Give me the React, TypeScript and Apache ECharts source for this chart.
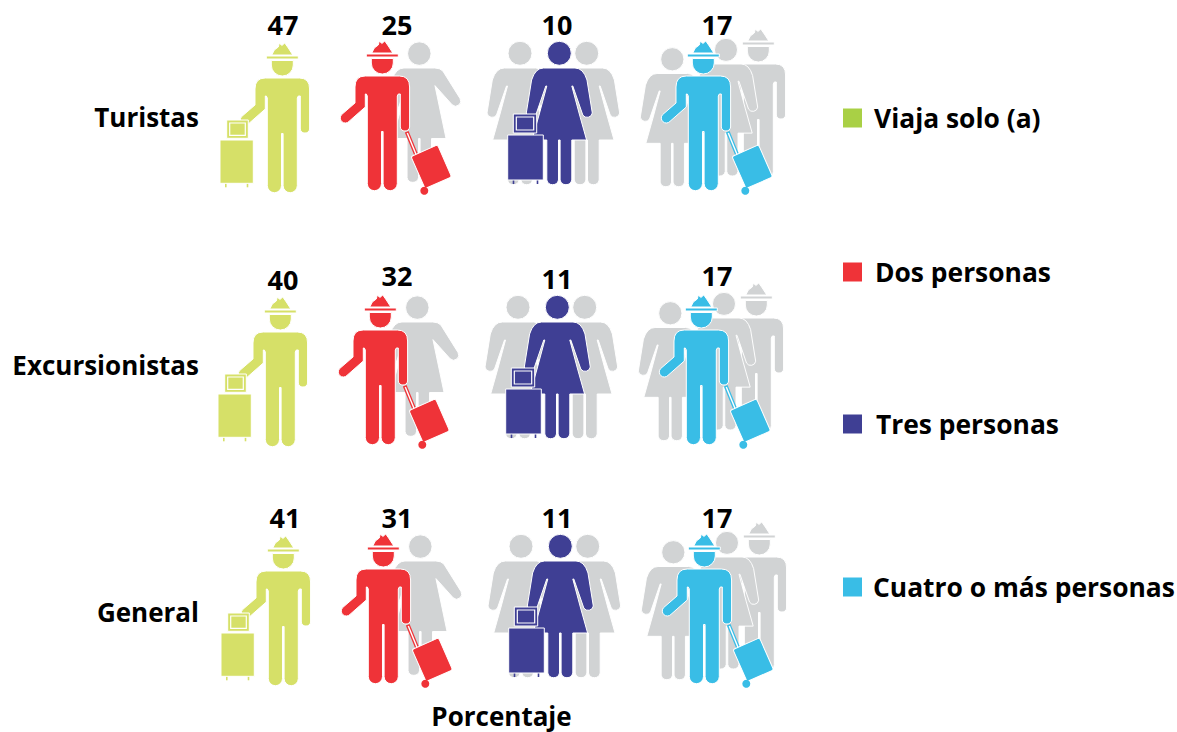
import React, { useEffect, useRef } from "react";
import * as echarts from "echarts";

const rowNames = ["Turistas", "Excursionistas", "General"];
const groupNames = ["Viaja solo (a)", "Dos personas", "Tres personas", "Cuatro o más personas"];
const soloValues = [47, 40, 41];
const dosValues = [25, 32, 31];
const tresValues = [10, 11, 11];
const cuatroValues = [17, 17, 17];
const seriesValues = [soloValues, dosValues, tresValues, cuatroValues];

const legendColors = ["#a9d045", "#ef3338", "#3f3f94", "#39bde6"];
const figureColors = ["#d6e068", "#ef3338", "#3f3f94", "#39bde6"];
const GREY = "#d1d3d4";
const FONT = '"Open Sans", sans-serif';

// layout nudges (pixels) relative to the axis positions
const figureDx = [-0.7, -41.7, -5.7, -2.7];
const figureDy = [0, -2, 0, -2];
const rowDx = [0, -2, 1];
const rowDy = [1, 7.5, -1];
const labelDx = [0, -27, -8, 11];
const labelY = [
  [24, 24, 24, 24],
  [279, 275, 278, 275],
  [517, 517, 517, 517],
];
const legendTops = [118, 272, 424, 587];
const legendLabelPad = [12, 13, 14, 11];

const MAN =
  "M-17,-40 L17,-40 Q27.3,-40 27.3,-29 L27.3,11 A4.7,4.7 0 0 1 18,11 L18,-22 L16,-22 L15,-20 L15,67.6 A7.1,7.1 0 0 1 0.8,67.6 L0.8,15.5 L-0.8,15.5 L-0.8,67.6 A7.1,7.1 0 0 1 -15,67.6 L-15,-20 L-16,-22 L-17,-22 L-17,-9 L-33.35,5.42 A5,5 0 0 1 -40.65,-1.42 L-27.3,-13 L-27.3,-29 Q-27.3,-40 -17,-40 Z " +
  "M-11,-57.5 L11,-57.5 L11,-53 A11,11 0 0 1 -11,-53 Z " +
  "M-16,-62 L16,-62 L16,-59 L-16,-59 Z " +
  "M-10.5,-63 L-8,-68 L-4,-71 L-3,-75 L-0.5,-72.5 L2.5,-75 L6,-70 L10.5,-63 Z";
const HEAD = "M12,-64.7 A12,12 0 1 1 -12,-64.7 A12,12 0 1 1 12,-64.7 Z";
const LEFT_SIDE =
  "L12.5,22 L12.5,62 A6,6 0 0 1 0.8,62 L0.8,22 L-0.8,22 L-0.8,62 A6,6 0 0 1 -12.5,62 L-12.5,22 L-27.3,22 L-20,-4 L-12.5,-32 L-13.5,-32 L-23.5,-3 A5.2,5.2 0 0 1 -33,-5 L-27.7,-38 Q-24,-50 -15.7,-50 Z ";
const WOMAN =
  "M-15.7,-50 L15.7,-50 Q24,-50 27.7,-38 L33,-5 A5.2,5.2 0 0 1 23.5,-3 L13.5,-32 L12.5,-32 L20,-4 L27.3,22 " +
  LEFT_SIDE +
  HEAD;
// the partner in the pair holds her far arm away from the body
const WOMAN_OPEN =
  "M-15.7,-50 L15.7,-50 Q21,-50 24,-47 L41.5,-19 A5.2,5.2 0 0 1 33.5,-12.5 L16,-32 L27.3,22 " +
  LEFT_SIDE +
  HEAD;

const fig = (path: string, fill: string, x = 0, y = 0, s = 1) => ({
  type: "path",
  x,
  y,
  scaleX: s,
  scaleY: s,
  shape: { pathData: path },
  style: { fill, stroke: "#fff", lineWidth: 1 },
});

const uprightBag = (fill: string, x: number, y: number, w: number, h: number, hx: number, hy: number, hw: number, hh: number) => [
  { type: "rect", shape: { x: hx, y: hy, width: hw, height: hh }, style: { fill, stroke: "#fff", lineWidth: 1 } },
  { type: "rect", shape: { x: hx + 3, y: hy + 3, width: hw - 6, height: hh - 6 }, style: { fill, stroke: "#fff", lineWidth: 1.2 } },
  { type: "rect", shape: { x: x + 5, y: y + h, width: 1.6, height: 4 }, style: { fill } },
  { type: "rect", shape: { x: x + w - 6.6, y: y + h, width: 1.6, height: 4 }, style: { fill } },
  { type: "rect", shape: { x, y, width: w, height: h }, style: { fill, stroke: "#fff", lineWidth: 1 } },
];

const rollingBag = (fill: string) => [
  { type: "line", shape: { x1: 24.4, y1: 15.7, x2: 36, y2: 44 }, style: { stroke: fill, lineWidth: 4 } },
  { type: "line", shape: { x1: 25, y1: 17, x2: 36, y2: 44 }, style: { stroke: "#fff", lineWidth: 1.4 } },
  {
    type: "rect",
    x: 49,
    y: 50.7,
    rotation: (23.7 * Math.PI) / 180,
    shape: { x: -14.5, y: -17.5, width: 29, height: 35, r: 2 },
    style: { fill, stroke: "#fff", lineWidth: 1 },
  },
  { type: "circle", shape: { cx: 42, cy: 74.7, r: 4 }, style: { fill } },
];

const figureChildren = (cat: number, fill: string): any[] => {
  if (cat === 0) {
    return [
      fig(MAN, fill),
      ...uprightBag(fill, -62.3, 22, 33.3, 43.3, -55.6, 2, 21.6, 18.3),
    ];
  }
  if (cat === 1) {
    return [fig(WOMAN_OPEN, GREY, 37, 1, 0.98), fig(MAN, fill), ...rollingBag(fill)];
  }
  if (cat === 2) {
    return [
      fig(WOMAN, GREY, -39.3, 0),
      fig(WOMAN, GREY, 27.4, 0),
      fig(WOMAN, fill),
      ...uprightBag(fill, -51.6, 17, 35.6, 45, -46, -4, 23.4, 19),
    ];
  }
  return [
    fig(MAN, GREY, 55, -12, 1),
    fig(WOMAN, GREY, 22.7, -4, 0.96),
    fig(WOMAN, GREY, -31, 6, 0.97),
    fig(MAN, fill),
    ...rollingBag(fill),
  ];
};

const renderFigure = (cat: number) => (params: any, api: any) => {
  const row = api.value(1);
  const [cx, cy] = api.coord([cat, row]);
  const value = api.value(2);
  return {
    type: "group",
    children: [
      {
        type: "group",
        x: cx + figureDx[cat] + rowDx[row],
        y: cy + rowDy[row] + figureDy[cat],
        children: figureChildren(cat, figureColors[cat]),
      },
      {
        type: "text",
        x: cx + labelDx[cat] + (row === 2 && cat === 0 ? 2 : 0),
        y: labelY[row][cat],
        style: {
          text: String(value),
          fill: "#000",
          font: `bold 27px ${FONT}`,
          textAlign: "center",
          textVerticalAlign: "middle",
        },
      },
    ],
  };
};

export default function App() {
  const ref = useRef<HTMLDivElement>(null);
  useEffect(() => {
    const chart = echarts.init(ref.current!, undefined, { renderer: "svg" });
    chart.setOption({
      animation: false,
      backgroundColor: "#fff",
      grid: { left: 283, top: 117, width: 423, height: 495, containLabel: false, outerBoundsMode: "none" },
      xAxis: {
        type: "category",
        data: groupNames,
        boundaryGap: false,
        axisLine: { show: false },
        axisTick: { show: false },
        axisLabel: { show: false },
        splitLine: { show: false },
        name: "Porcentaje",
        nameLocation: "middle",
        nameGap: 91,
        nameTextStyle: { fontFamily: FONT, fontWeight: "bold", fontSize: 26, color: "#000", padding: [0, 0, 0, 14] },
      },
      yAxis: {
        type: "category",
        data: rowNames,
        inverse: true,
        boundaryGap: false,
        axisLine: { show: false },
        axisTick: { show: false },
        splitLine: { show: false },
        axisLabel: { margin: 84, fontFamily: FONT, fontWeight: "bold", fontSize: 26, color: "#000", align: "right" },
      },
      legend: groupNames.map((name, i) => ({
        data: [name],
        left: 843,
        top: legendTops[i] - 13,
        orient: "horizontal",
        icon: "rect",
        itemWidth: 19,
        itemHeight: 19,
        itemGap: 0,
        padding: 0,
        selectedMode: false,
        textStyle: { fontFamily: FONT, fontWeight: "bold", fontSize: 26.4, color: "#000", padding: [0, 0, 0, legendLabelPad[i] - 5] },
      })),
      series: groupNames.map((name, cat) => ({
        type: "custom",
        name,
        coordinateSystem: "cartesian2d",
        itemStyle: { color: legendColors[cat] },
        encode: { x: 0, y: 1 },
        data: seriesValues[cat].map((v, row) => [cat, row, v]),
        renderItem: renderFigure(cat),
      })),
    });
    return () => chart.dispose();
  }, []);
  return <div ref={ref} style={{ position: "absolute", left: 0, top: 0, width: 1177, height: 732 }} />;
}
